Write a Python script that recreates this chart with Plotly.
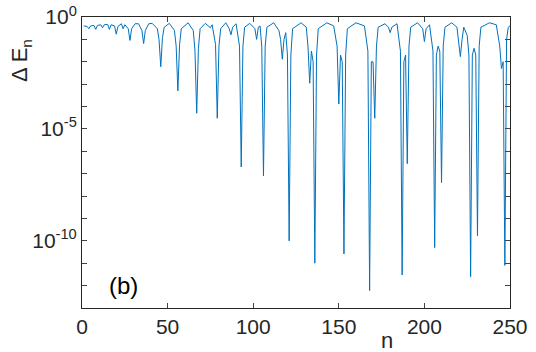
import plotly.graph_objects as go

# sample index n and energy gap dE
n = [1, 3, 4, 5, 7, 8, 9, 11, 12, 13, 15, 16, 17, 19, 20, 21, 23, 24, 25, 27, 28, 29,
     31, 33, 35, 36, 37, 39, 41, 44, 45, 46, 47, 48, 51, 54, 55, 56, 57, 58,
     62, 65, 66, 67, 68, 69, 72, 74, 75, 76, 78, 79, 80, 81, 84, 86, 87, 88, 90,
     92, 93, 94, 95, 98, 101, 102, 103, 104, 105, 106, 107, 108, 112, 115, 116,
     117, 118, 119, 120, 121, 122, 123, 128, 131, 132, 133, 134, 135, 136, 137,
     138, 143, 147, 149, 150, 151, 152, 153, 154, 155, 160, 165, 167, 168, 169,
     170, 171, 172, 173, 177, 179, 180, 181, 184, 186, 187, 188, 189, 190, 191,
     192, 196, 199, 200, 201, 203, 205, 206, 207, 208, 209, 210, 211, 212, 216,
     219, 220, 221, 222, 223, 225, 226, 227, 228, 229, 230, 231, 232, 233, 238,
     242, 244, 245, 246, 247, 248, 249, 250]
dE = [0.40, 0.38, 0.30, 0.40, 0.42, 0.28, 0.42, 0.45, 0.33, 0.45, 0.47, 0.28, 0.45,
      0.40, 0.17, 0.38, 0.50, 0.30, 0.45, 0.30, 0.09, 0.30,
      0.50, 0.50, 0.25, 0.065, 0.25, 0.50, 0.52, 0.30, 0.10, 0.006, 0.12, 0.35,
      0.52, 0.25, 0.05, 5e-4, 0.06, 0.30,
      0.55, 0.25, 0.03, 5e-5, 0.04, 0.30, 0.52, 0.40, 0.33, 0.45, 0.06, 3e-5, 0.05,
      0.30, 0.55, 0.30, 0.16, 0.35, 0.50,
      0.05, 2e-7, 0.05, 0.35, 0.52, 0.30, 0.10, 0.35, 0.40, 0.05, 8e-8, 0.05, 0.35,
      0.55, 0.25, 0.10,
      0.013, 0.10, 0.20, 0.02, 1e-10, 0.02, 0.30, 0.55, 0.35, 0.05, 1.1e-3, 0.03,
      0.01, 1e-11, 0.02,
      0.30, 0.55, 0.40, 0.05, 1.3e-4, 0.02, 0.01, 2.6e-11, 0.02, 0.30, 0.55, 0.40,
      0.03, 6e-13, 0.01,
      0.01, 3e-5, 0.05, 0.35, 0.50, 0.35, 0.20, 0.35, 0.50, 0.03, 3e-12, 0.01, 0.02,
      2.8e-7, 0.05,
      0.35, 0.55, 0.30, 0.08, 0.30, 0.45, 0.03, 5e-11, 0.02, 0.05, 0.03, 4e-8, 0.05,
      0.35, 0.55,
      0.35, 0.10, 0.017, 0.10, 0.35, 0.15, 0.02, 2.5e-12, 0.02, 0.04, 0.02, 1.7e-10,
      0.05, 0.35, 0.55,
      0.45, 0.05, 5e-3, 0.01, 8e-12, 0.10, 0.35, 0.40]

xticks = [0, 50, 100, 150, 200, 250]
ytick_vals = [10.0 ** -k for k in range(14)]
ytick_text = ['10<sup>0</sup>' if k == 0 else ('10<sup>-%d</sup>' % k if k in (5, 10) else '')
              for k in range(14)]

ink = '#262626'
fnt = 'Liberation Sans, Arial, sans-serif'

fig = go.Figure(go.Scatter(x=n, y=dE, mode='lines',
                           line=dict(color='#0072BD', width=1)))

fig.update_layout(
    width=536, height=352,
    margin=dict(l=82, r=26, t=17, b=44),
    paper_bgcolor='white', plot_bgcolor='white',
    showlegend=False,
    font=dict(family=fnt, size=21, color=ink),
)
fig.update_xaxes(range=[0, 250], tickvals=xticks, ticks='inside', ticklen=5,
                 showline=True, linecolor=ink, linewidth=1, mirror='ticks',
                 showgrid=False, zeroline=False, automargin=False,
                 ticklabeloverflow='allow', tickfont=dict(size=21, color=ink))
fig.update_yaxes(type='log', range=[-13, 0], tickvals=ytick_vals, ticktext=ytick_text,
                 ticks='inside', ticklen=5, showline=True, linecolor=ink, linewidth=1,
                 mirror='ticks', showgrid=False, zeroline=False, automargin=False,
                 ticklabeloverflow='allow', tickfont=dict(size=21, color=ink))

fig.add_annotation(text='\u0394 E<sub>n</sub>', xref='paper', yref='paper',
                   x=-0.1425, y=0.849, xanchor='center', yanchor='middle',
                   textangle=-90, showarrow=False, font=dict(size=22, color=ink))
fig.add_annotation(text='n', xref='paper', yref='paper', x=0.712, y=-0.11,
                   xanchor='center', yanchor='middle', showarrow=False,
                   font=dict(size=22, color=ink))
fig.add_annotation(text='(b)', xref='x', yref='paper', x=24.5, y=0.076,
                   xanchor='center', yanchor='middle', showarrow=False,
                   font=dict(size=24, color='black'))

# drop the default 8px body margin so the figure fills the window
fig.write_html('out.html', config={'displayModeBar': False},
               post_script="document.body.style.margin='0';")
